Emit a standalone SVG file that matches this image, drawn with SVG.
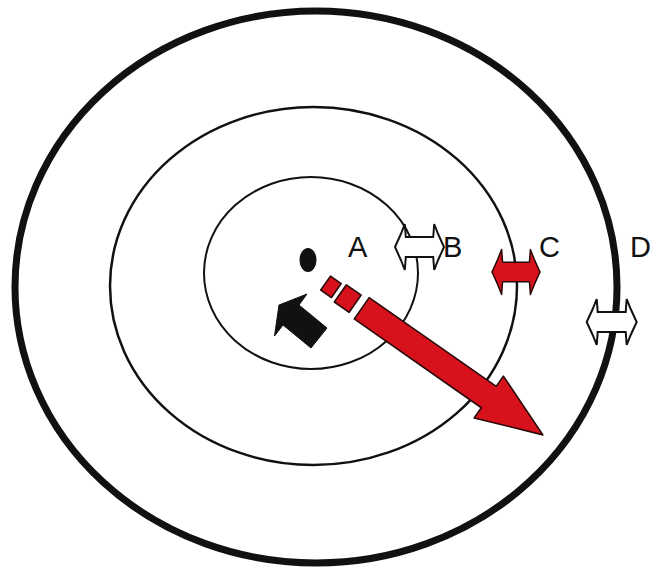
<svg xmlns="http://www.w3.org/2000/svg" xmlns:xlink="http://www.w3.org/1999/xlink" width="652" height="571" viewBox="0 0 652 571">
<style>
.ring{fill:none;stroke:#111}
.lbl{font-family:"Liberation Sans",Arial,sans-serif;font-size:29px;fill:#111}
.red{fill:#d8121c;stroke:#2a0808;stroke-width:1.6;stroke-linejoin:round}
.wht{fill:#fff;stroke:#111;stroke-width:2;stroke-linejoin:miter}
.blk{fill:#111;stroke:#111;stroke-width:1}
</style>
<defs>
<path id="dbl" d="M-25,0 L-19,-13 L-15,-23 L-14,-10 L14,-10 L15,-23 L19,-13 L25,0 L19,13 L15,23 L14,10 L-14,10 L-15,23 L-19,13 Z"/>
</defs>
<rect width="652" height="571" fill="#fff"/>
<g id="ring-outer"><ellipse class="ring" cx="316" cy="287" rx="301" ry="276" stroke-width="7"/></g>
<g id="ring-middle"><ellipse class="ring" cx="313.5" cy="286" rx="203.5" ry="179" stroke-width="2.5"/></g>
<g id="ring-inner"><ellipse class="ring" cx="311" cy="273" rx="107" ry="96" stroke-width="2"/></g>
<g id="center-dot"><ellipse cx="308" cy="260" rx="8.5" ry="12" fill="#111"/></g>
<g id="black-arrow"><polygon class="blk" points="279,305 307,294 299,305 327,328 311,348 283,325 274.5,336"/></g>
<g id="connectors">
<g id="red-arrow" transform="translate(361.7,308.3) rotate(34.94)">
<rect class="red" x="-44" y="-8.5" width="13" height="17"/>
<rect class="red" x="-26" y="-10.5" width="18" height="21"/>
<polygon class="red" points="0,-13 155,-13 155,-25.5 221,0 155,25.5 155,13 0,13"/>
</g>
</g>
<g id="arrow-B"><use xlink:href="#dbl" class="wht" transform="translate(419.5,247) scale(0.98,1)"/></g>
<g id="arrow-C"><use xlink:href="#dbl" class="red" transform="translate(516,272) scale(0.96,0.98)"/></g>
<g id="arrow-D"><use xlink:href="#dbl" class="wht" transform="translate(611.7,322)"/></g>
<g id="labels">
<text class="lbl" x="348" y="257">A</text>
<text class="lbl" x="443" y="257">B</text>
<text class="lbl" x="539" y="257">C</text>
<text class="lbl" x="630" y="257">D</text>
</g>
</svg>
